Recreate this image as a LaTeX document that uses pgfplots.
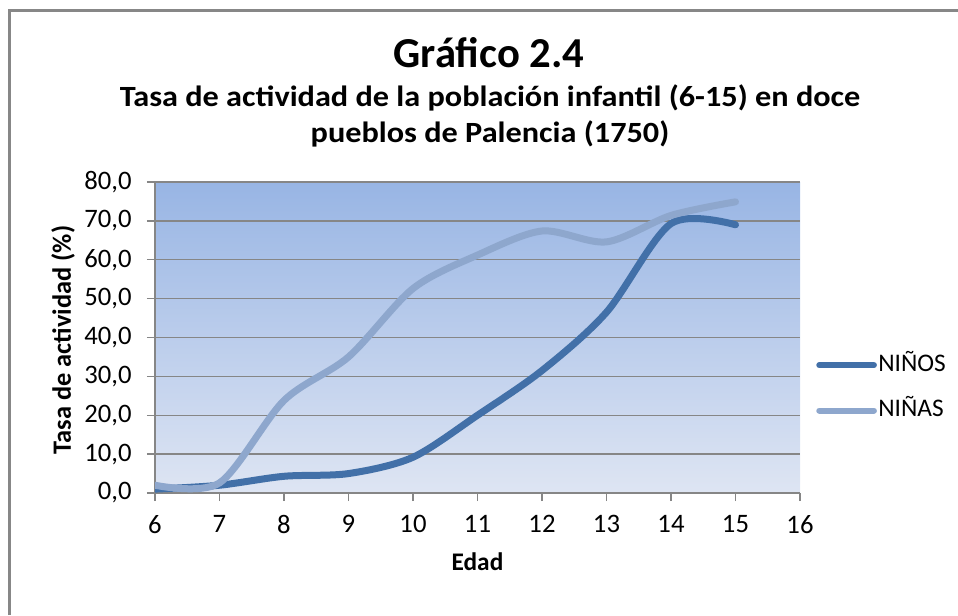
\documentclass[border=0pt]{standalone}
\usepackage{pgfplots}
\pgfplotsset{compat=1.18}
\usepackage{fontspec}
\setmainfont{Carlito}
\definecolor{ninos}{RGB}{66,112,168}
\definecolor{ninas}{RGB}{142,167,205}
\definecolor{bgtop}{RGB}{152,181,228}
\definecolor{bgbot}{RGB}{222,229,243}
\definecolor{gridc}{RGB}{134,134,134}
\definecolor{framec}{RGB}{135,135,135}
\begin{document}
\begin{tikzpicture}
\path[use as bounding box] (0,0) rectangle (718.5pt,461.25pt);
\draw[framec, line width=2.25pt] (6.75pt,0) -- (6.75pt,453pt) -- (718.5pt,453pt);
\node[anchor=base, font=\fontsize{32}{38}\selectfont\bfseries] at (366.75pt,410.25pt) {Gráfico 2.4};
\node[anchor=base, font=\fontsize{22}{26}\selectfont\bfseries\addfontfeatures{FakeStretch=1.1}] at (367.5pt,381pt) {Tasa de actividad de la población infantil (6-15) en doce};
\node[anchor=base, font=\fontsize{22}{26}\selectfont\bfseries\addfontfeatures{FakeStretch=1.1}] at (367.5pt,354pt) {pueblos de Palencia (1750)};
\node[rotate=90, font=\fontsize{19.8}{24}\selectfont\bfseries] at (47.25pt,206.25pt) {Tasa de actividad (\%)};
\node[anchor=base, font=\fontsize{19}{23}\selectfont\bfseries] at (358.1pt,33.75pt) {Edad};
\begin{axis}[
  at={(116.25pt,91.5pt)}, anchor=south west,
  scale only axis, width=483.75pt, height=233.25pt,
  xmin=6, xmax=16, ymin=0, ymax=80,
  xtick={6,7,...,16}, ytick={0,10,...,80},
  axis x line*=bottom, axis y line*=left,
  axis line style={gridc, line width=1.1pt, -},
  tick align=outside, major tick length=6pt,
  tick style={gridc, line width=1.1pt},
  ymajorgrids, grid style={gridc, line width=1.1pt},
  axis background/.style={shade, top color=bgtop, bottom color=bgbot},
  ticklabel style={font=\fontsize{20}{24}\selectfont},
  /pgf/number format/assume math mode=true,
  yticklabel style={xshift=-8pt, /pgf/number format/.cd, fixed, fixed zerofill, precision=1, use comma},
  xticklabel style={yshift=-7pt, /pgf/number format/.cd, fixed, precision=0},
  legend style={draw=none, fill=none, at={(1.0186,0.338)}, anchor=west,
    font=\fontsize{19}{23}\selectfont, row sep=17pt,
    nodes={inner sep=1pt, text height=12pt, text depth=3pt}},
  legend cell align=left,
  legend image code/.code={\draw[#1, line width=4.5pt, line cap=round] (2pt,0pt) -- (43pt,0pt);},
]
\addplot[ninos, line width=5.25pt, line cap=round, smooth, tension=0.5] coordinates {
(6,1.0) (7,2.0) (8,4.3) (9,5.0) (10,9.2) (11,20.0) (12,31.5) (13,46.5) (14,69.3) (15,69.0)};
\addlegendentry{NIÑOS}
\addplot[ninas, line width=5.25pt, line cap=round, smooth, tension=0.5] coordinates {
(6,2.0) (7,2.6) (8,23.8) (9,35.0) (10,52.6) (11,61.2) (12,67.4) (13,64.6) (14,71.4) (15,74.9)};
\addlegendentry{NIÑAS}
\end{axis}
\end{tikzpicture}
\end{document}
